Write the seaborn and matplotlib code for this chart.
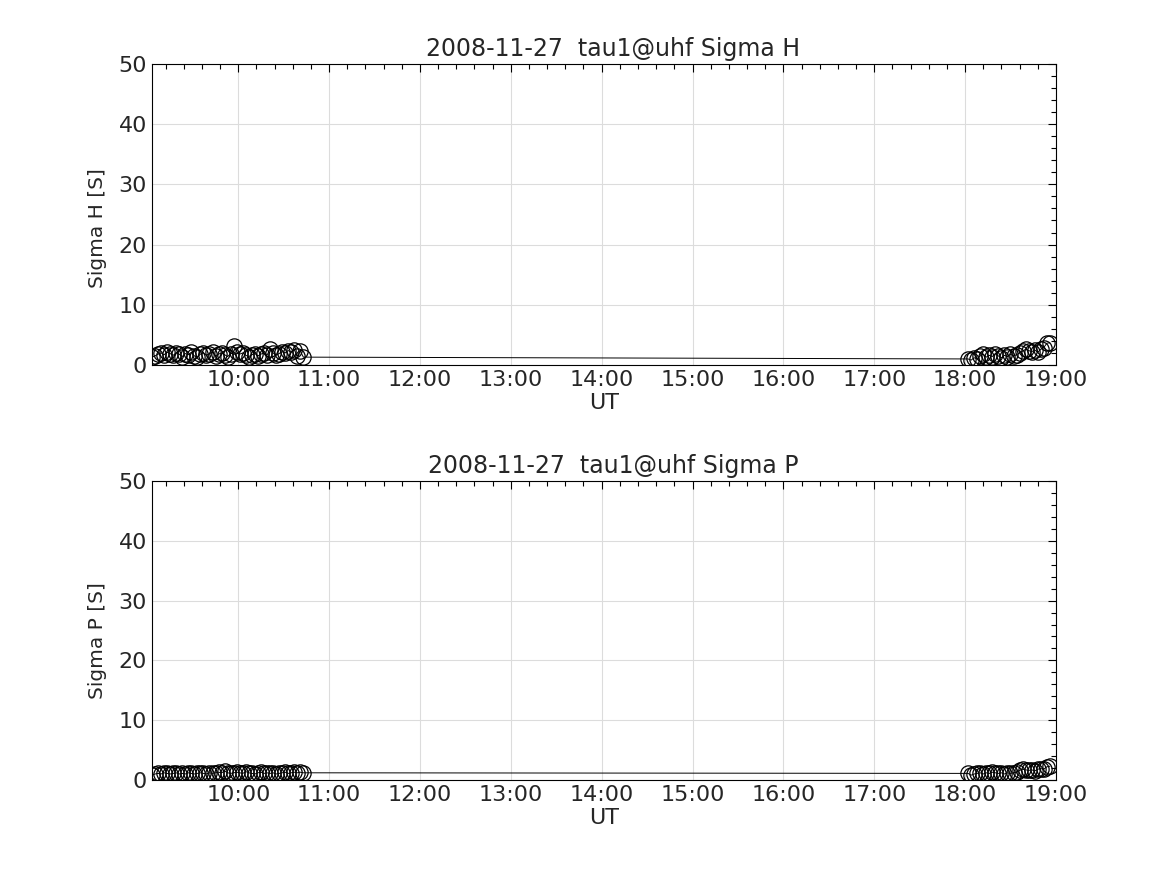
import numpy as np
import pandas as pd
import matplotlib
matplotlib.use("Agg")
import matplotlib.pyplot as plt
import matplotlib.dates as mdates
from matplotlib.ticker import MultipleLocator
import seaborn as sns

# sample times (2-min cadence, two observing windows)
t_morning = pd.date_range("2008-11-27 09:03", "2008-11-27 10:43", freq="2min")
t_evening = pd.date_range("2008-11-27 18:02", "2008-11-27 18:56", freq="2min")

sigma_h_morning = [
    1.3, 1.5, 1.8, 2.0, 1.7, 2.1, 1.9, 1.6, 2.0, 1.8,
    1.4, 1.9, 1.7, 2.1, 1.5, 1.3, 1.8, 2.0, 1.6, 1.9,
    2.1, 1.5, 1.8, 2.0, 1.7, 1.4, 1.9, 3.1, 2.2, 1.8,
    2.0, 1.6, 1.4, 1.7, 1.9, 1.5, 1.8, 2.0, 1.6, 2.7,
    2.0, 1.6, 1.9, 2.2, 2.0, 2.4, 2.1, 2.5, 1.5, 2.3,
    1.3,
]
sigma_h_evening = [
    1.0, 0.8, 1.2, 1.0, 1.5, 1.8, 1.3, 1.6, 1.4, 1.9,
    1.5, 1.2, 1.6, 1.4, 1.8, 1.5, 1.7, 2.0, 2.3, 2.6,
    2.4, 2.2, 2.5, 2.1, 2.6, 2.9, 3.6, 3.7,
]
sigma_p_morning = [
    0.8, 1.0, 1.1, 1.0, 1.2, 1.1, 1.0, 1.1, 1.2, 1.0,
    1.1, 1.0, 1.2, 1.1, 1.0, 1.1, 1.2, 1.1, 1.0, 1.2,
    1.1, 1.2, 1.3, 1.2, 1.5, 1.2, 1.1, 1.2, 1.3, 1.2,
    1.1, 1.4, 1.2, 1.1, 1.0, 1.2, 1.3, 1.1, 1.2, 1.1,
    1.2, 1.0, 1.1, 1.2, 1.3, 1.1, 1.2, 1.3, 1.2, 1.3,
    1.2,
]
sigma_p_evening = [
    1.1, 0.8, 1.0, 1.1, 1.2, 1.0, 1.2, 1.1, 1.3, 1.2,
    1.1, 1.2, 1.0, 1.2, 1.1, 1.2, 1.3, 1.6, 1.8, 1.7,
    1.6, 1.7, 1.5, 1.8, 1.9, 1.8, 2.2, 2.3,
]

times = t_morning.append(t_evening)
panels = [
    ("Sigma H", "Sigma H [S]", sigma_h_morning + sigma_h_evening, 0.455),
    ("Sigma P", "Sigma P [S]", sigma_p_morning + sigma_p_evening, 0.465),
]

sns.set_style("white")
plt.rcParams["font.family"] = ["DejaVu Sans"]
text_col = "#262626"

fig = plt.figure(figsize=(11.67, 8.75), dpi=100)
positions = [[0.1302, 0.5829, 0.7746, 0.3440], [0.1302, 0.1086, 0.7746, 0.3417]]

for pos, (name, ylab, vals, ylab_y) in zip(positions, panels):
    ax = fig.add_axes(pos)
    df = pd.DataFrame({"time": times, "value": vals})
    sns.lineplot(
        data=df, x="time", y="value", ax=ax,
        color="black", linewidth=0.7,
        marker="o", markersize=11, markerfacecolor="none",
        markeredgecolor="black", markeredgewidth=0.9,
    )
    ax.set_xlim(pd.Timestamp("2008-11-27 09:03"), pd.Timestamp("2008-11-27 19:00"))
    ax.set_ylim(0, 50)
    ax.xaxis.set_major_locator(mdates.HourLocator(byhour=range(10, 20)))
    ax.xaxis.set_minor_locator(mdates.MinuteLocator(byminute=[0, 12, 24, 36, 48]))
    ax.xaxis.set_major_formatter(mdates.DateFormatter("%H:%M"))
    ax.yaxis.set_major_locator(MultipleLocator(10))
    ax.yaxis.set_minor_locator(MultipleLocator(2))
    ax.grid(True, which="major", color="#dcdcdc", linewidth=0.8)
    ax.tick_params(which="both", direction="in", top=True, right=True,
                   colors="black", labelcolor=text_col, labelsize=16)
    ax.tick_params(which="major", length=6, width=0.8)
    ax.tick_params(which="minor", length=3.5, width=0.8)
    for sp in ax.spines.values():
        sp.set_color("black")
        sp.set_linewidth(0.8)
    ax.set_title(f"2008-11-27  tau1@uhf {name}", fontsize=17, color=text_col,
                 pad=6, x=0.51)
    ax.set_xlabel("UT", fontsize=16, color=text_col, labelpad=2)
    ax.set_ylabel(ylab, fontsize=14.5, color=text_col)
    ax.yaxis.set_label_coords(-0.050, ylab_y)

fig.savefig("out.png", dpi=100)
